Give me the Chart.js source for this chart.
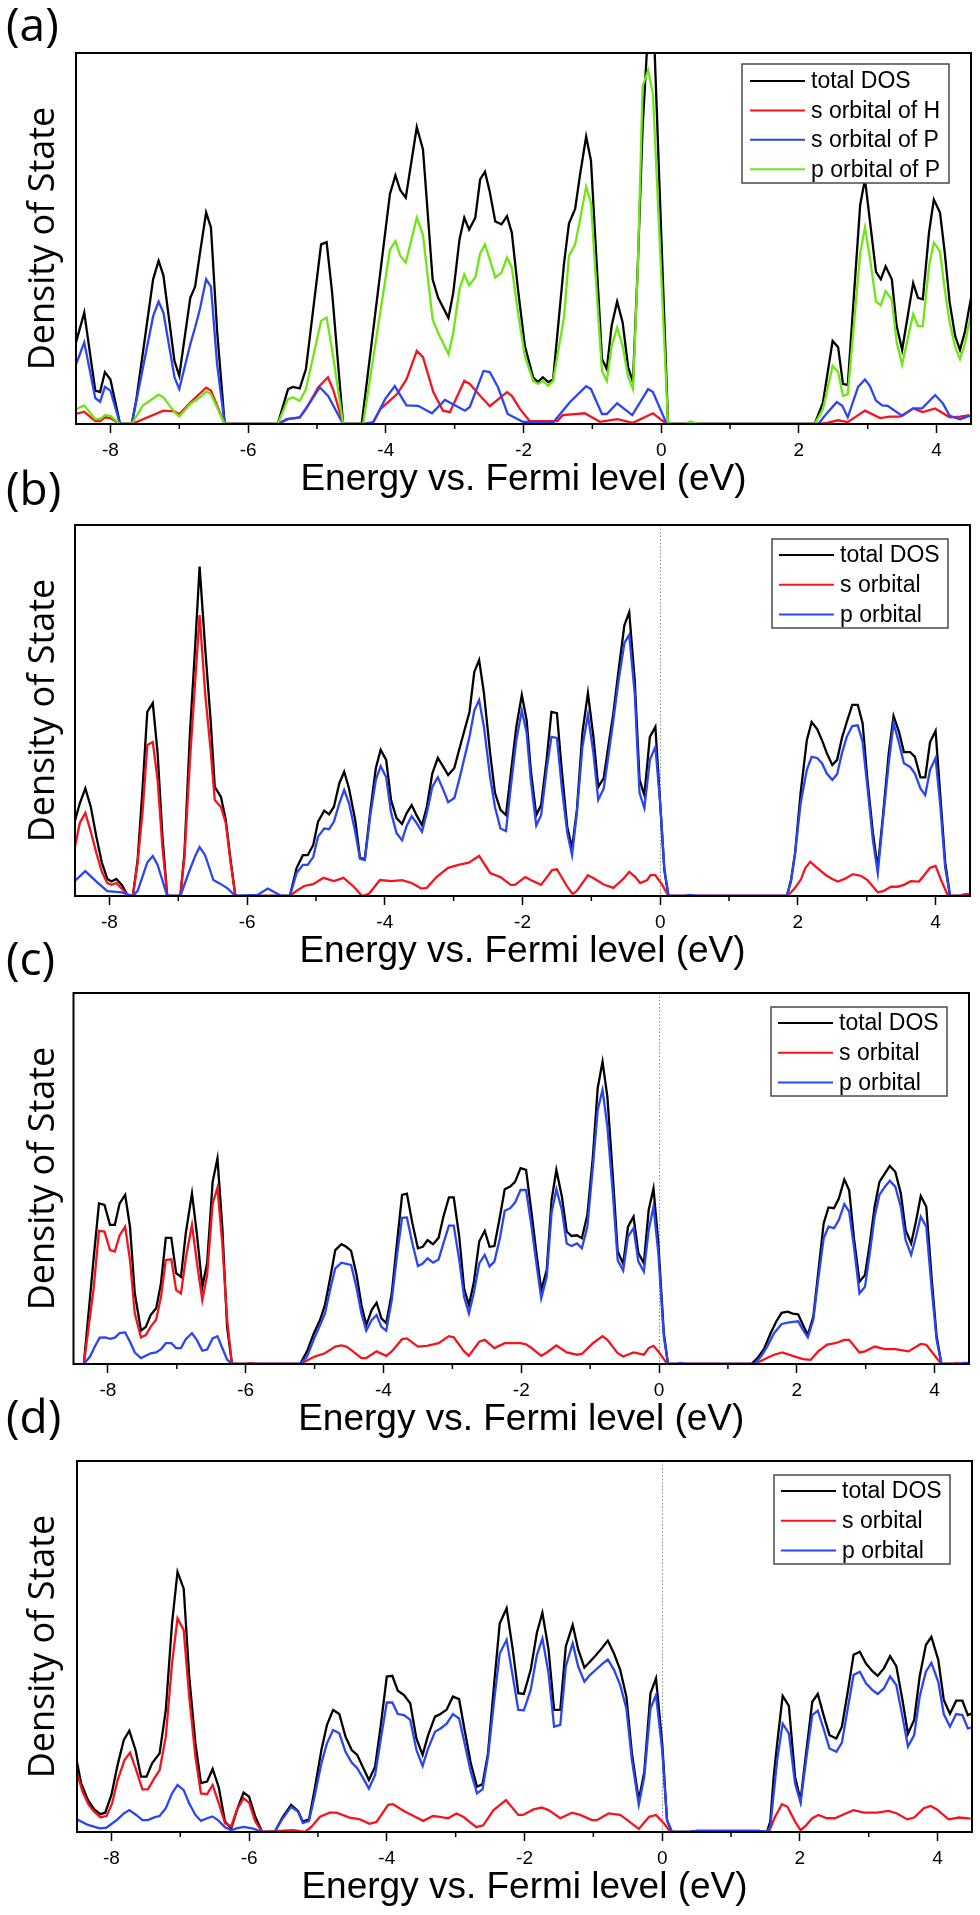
<!DOCTYPE html>
<html>
<head>
<meta charset="utf-8">
<title>Density of State</title>
<script src="https://cdn.jsdelivr.net/npm/chart.js@4.4.1/dist/chart.umd.min.js"></script>
<style>
  body { margin: 0; background: #fff; }
  #page { position: relative; width: 980px; height: 1915px; overflow: hidden; background: #fff; }
  .panel { position: absolute; left: 0; width: 980px; height: 502px; }
  .tag { position: absolute; left: 6px; font-family: "Open Sans", sans-serif; font-size: 46px; line-height: 46px; color: #000; }
</style>
</head>
<body>
<div id="page">
  <div class="panel" style="top:0px"><canvas id="chartA" width="980" height="502"></canvas></div>
  <div class="panel" style="top:472px"><canvas id="chartB" width="980" height="502"></canvas></div>
  <div class="panel" style="top:940px"><canvas id="chartC" width="980" height="502"></canvas></div>
  <div class="panel" style="top:1408px"><canvas id="chartD" width="980" height="502"></canvas></div>
  <div class="tag" style="top:0px">(a)</div>
  <div class="tag" style="top:464px">(b)</div>
  <div class="tag" style="top:934px">(c)</div>
  <div class="tag" style="top:1392px">(d)</div>
</div>
<script>
// x axis: energy vs. Fermi level (eV), y axis in arbitrary units (0..100 = box height)
const energyMin = -8.5;
const energyMax = 4.5;
const majorTicks = [-8, -6, -4, -2, 0, 2, 4];
const minorTicks = [-7, -5, -3, -1, 1, 3];

const legendA = ['total DOS', 's orbital of H', 's orbital of P', 'p orbital of P'];
const legendBCD = ['total DOS', 's orbital', 'p orbital'];

// (a) [energy, DOS]
const aTotal = [[-8.5,22],[-8.38,30],[-8.22,9],[-8.15,8.6],[-8.08,14],[-8.0,12],[-7.86,0],[-7.69,0],[-7.62,7],[-7.38,39],[-7.3,44],[-7.23,40],[-7.07,17],[-7.0,13],[-6.84,34],[-6.77,37],[-6.7,46],[-6.61,57],[-6.54,53],[-6.45,25],[-6.34,0],[-5.57,0],[-5.42,9.4],[-5.35,10],[-5.25,9.6],[-5.16,14.8],[-4.94,48.4],[-4.86,49],[-4.78,35.5],[-4.62,0],[-4.35,0],[-3.94,62],[-3.86,67],[-3.79,63],[-3.71,61],[-3.55,80],[-3.46,74],[-3.32,39],[-3.24,34],[-3.09,28.6],[-3.02,35.4],[-2.93,49.7],[-2.86,55.6],[-2.79,52.4],[-2.7,55.6],[-2.63,65.9],[-2.56,68],[-2.49,62.6],[-2.41,54.6],[-2.32,53.8],[-2.24,56],[-2.17,51.6],[-2.08,36.3],[-1.98,21],[-1.86,12.6],[-1.79,11.3],[-1.72,12.6],[-1.64,11.3],[-1.57,12],[-1.41,43.5],[-1.34,54],[-1.25,58],[-1.18,67],[-1.09,77.5],[-1.02,71],[-0.93,40.8],[-0.86,17.5],[-0.79,14.8],[-0.72,26.4],[-0.64,33],[-0.56,27.4],[-0.48,15.3],[-0.41,11.3],[-0.34,42.5],[-0.27,80],[-0.2,103],[-0.1,103],[0.1,0],[2.23,0],[2.35,5.8],[2.49,22.4],[2.57,20.7],[2.64,10.8],[2.71,10.5],[2.89,59],[2.96,66],[3.03,55],[3.12,41],[3.19,39],[3.26,42.5],[3.35,39],[3.42,26.4],[3.5,20],[3.58,29],[3.66,38],[3.73,34],[3.8,33.6],[3.89,51.6],[3.96,60.5],[4.05,57],[4.12,46],[4.19,32.8],[4.27,23.7],[4.34,20],[4.41,24.7],[4.5,34]];
const aHs = [[-8.5,2.7],[-8.38,3.3],[-8.22,0.8],[-8.15,0.8],[-8.08,1.8],[-8.0,1.6],[-7.86,0],[-7.69,0],[-7.23,3.6],[-7.07,3.4],[-7.0,2.6],[-6.84,5.8],[-6.61,9.8],[-6.54,9],[-6.34,0],[-5.57,0],[-5.42,1.3],[-5.25,1.8],[-5.16,4],[-4.98,9.9],[-4.84,12.6],[-4.76,9],[-4.62,0],[-4.2,0],[-4.08,4],[-3.84,8],[-3.7,12],[-3.55,19.7],[-3.46,18],[-3.31,8.6],[-3.17,3.6],[-3.07,3.2],[-2.86,11.6],[-2.78,10.8],[-2.63,7.6],[-2.49,4.8],[-2.24,8.6],[-2.17,7.6],[-2.05,4],[-1.91,0.8],[-1.51,0.8],[-1.43,2.4],[-1.11,2.9],[-0.89,0.6],[-0.64,1.3],[-0.41,0.3],[-0.12,2.9],[0.08,0],[2.28,0],[2.41,0.3],[2.57,1],[2.71,0.5],[2.96,3.6],[3.18,1.6],[3.32,2],[3.47,2],[3.66,4.2],[3.8,3.2],[3.98,4.2],[4.19,1.8],[4.34,2],[4.48,2.4]];
const aPs = [[-8.5,16],[-8.38,22],[-8.22,7],[-8.15,6],[-8.08,10],[-8.0,9],[-7.86,0],[-7.69,0],[-7.38,29],[-7.3,33],[-7.23,30],[-7.07,12.6],[-7.0,9.4],[-6.84,21.5],[-6.77,26],[-6.7,31],[-6.61,39],[-6.54,37],[-6.45,16],[-6.34,0],[-5.57,0],[-5.44,1.3],[-5.25,1.8],[-5.1,5.8],[-4.96,9.9],[-4.84,7.6],[-4.62,0],[-4.33,0],[-4.18,0.5],[-4.01,6.7],[-3.87,10.2],[-3.7,5],[-3.53,4.9],[-3.33,2.9],[-3.14,6.5],[-2.85,3.6],[-2.78,4.6],[-2.58,14.3],[-2.49,14],[-2.37,9.9],[-2.23,2.7],[-2.01,0.6],[-1.57,0.4],[-1.33,5.8],[-1.09,10.2],[-1.02,9.4],[-0.86,2.7],[-0.79,2.7],[-0.64,5.6],[-0.42,2.4],[-0.19,9.4],[-0.12,8.6],[0.08,0],[2.28,0],[2.42,3.2],[2.55,5.9],[2.63,4.9],[2.71,1.8],[2.86,10],[2.96,12],[3.03,10.3],[3.12,6.3],[3.21,5],[3.29,4.9],[3.5,2.2],[3.66,4.2],[3.79,4.2],[3.98,7.8],[4.09,5.6],[4.19,2.2],[4.34,1.3],[4.48,2.2]];
const aPp = [[-8.5,4],[-8.38,5],[-8.22,1.3],[-8.15,1.3],[-8.08,2.4],[-8.0,2.2],[-7.86,0],[-7.69,0],[-7.53,5],[-7.3,7.9],[-7.23,7.2],[-7.07,3.2],[-7.0,2],[-6.84,5.4],[-6.7,7.2],[-6.6,8.8],[-6.54,8],[-6.34,0],[-5.57,0],[-5.42,6.7],[-5.35,7.2],[-5.25,6.2],[-5.16,9.4],[-4.94,27.8],[-4.86,28.7],[-4.78,20],[-4.62,0],[-4.33,0],[-3.94,47],[-3.86,49.3],[-3.79,45.3],[-3.71,43.5],[-3.55,55.6],[-3.46,51],[-3.32,28.2],[-3.24,24.6],[-3.09,18.8],[-3.02,24.6],[-2.93,36.3],[-2.86,40.3],[-2.79,37.4],[-2.7,39.5],[-2.63,46],[-2.56,48.4],[-2.49,44.4],[-2.41,39.5],[-2.32,40.8],[-2.24,44.9],[-2.17,42.2],[-2.08,30],[-1.98,18.3],[-1.86,11.6],[-1.79,10.8],[-1.72,11.6],[-1.64,10.3],[-1.57,11.6],[-1.41,29],[-1.34,45.3],[-1.25,48.4],[-1.18,55],[-1.09,64],[-1.02,59.6],[-0.93,33.6],[-0.86,14.3],[-0.79,11.6],[-0.72,21],[-0.64,26],[-0.56,21],[-0.48,12.6],[-0.41,9.4],[-0.34,41.7],[-0.27,91],[-0.19,95.4],[-0.12,89],[0.1,0],[0.35,0],[0.42,0.7],[0.55,0],[2.23,0],[2.35,4],[2.49,15.7],[2.57,14],[2.64,7.6],[2.71,8],[2.89,46],[2.96,53],[3.03,45],[3.12,33],[3.19,32],[3.26,35.8],[3.35,33.6],[3.42,22],[3.5,16],[3.58,23],[3.66,29.6],[3.73,26.4],[3.8,26.4],[3.89,42.5],[3.96,48.9],[4.05,46.5],[4.12,36],[4.19,27.4],[4.27,20.7],[4.34,17.5],[4.41,21.5],[4.5,29.6]];

// (b)
const bTotal = [[-8.51,19.7],[-8.43,25],[-8.35,29],[-8.27,24],[-8.19,16],[-8.11,9],[-8.03,4.6],[-7.97,3.9],[-7.9,4.6],[-7.82,3],[-7.74,0.3],[-7.66,0],[-7.59,9.7],[-7.52,28.6],[-7.45,49.6],[-7.37,52],[-7.3,38.5],[-7.23,16],[-7.16,0],[-6.97,0],[-6.91,11.6],[-6.83,44],[-6.76,65.5],[-6.69,88.8],[-6.61,67],[-6.53,47.4],[-6.47,29.4],[-6.38,26.7],[-6.31,20.5],[-6.24,9.7],[-6.17,0],[-5.38,0],[-5.28,7.6],[-5.19,11],[-5.12,11],[-5.04,13.7],[-4.97,20],[-4.88,23],[-4.81,22],[-4.74,24],[-4.66,30.4],[-4.59,33.5],[-4.52,29],[-4.43,20.5],[-4.36,10.2],[-4.29,10],[-4.21,23],[-4.13,34.5],[-4.06,39.4],[-3.98,36.7],[-3.91,25.9],[-3.83,21],[-3.75,19.4],[-3.68,22.4],[-3.61,24.5],[-3.54,21.8],[-3.46,19.1],[-3.39,24],[-3.31,33],[-3.23,37.2],[-3.15,34.8],[-3.08,32.6],[-2.99,34.5],[-2.92,39.4],[-2.85,44.2],[-2.77,49.6],[-2.7,60.4],[-2.63,63.6],[-2.56,54.7],[-2.47,38.5],[-2.4,27.8],[-2.32,23.2],[-2.24,21.8],[-2.17,33],[-2.09,45.6],[-2.01,54.2],[-1.94,47.4],[-1.88,34],[-1.8,21.8],[-1.73,24.5],[-1.65,36.7],[-1.58,49.6],[-1.5,49.3],[-1.43,34],[-1.35,18.6],[-1.28,12.9],[-1.21,23.2],[-1.13,44],[-1.05,54.7],[-0.97,42.9],[-0.9,29.4],[-0.82,31.8],[-0.74,42],[-0.68,49.3],[-0.61,60],[-0.52,73],[-0.45,76.5],[-0.37,58.2],[-0.3,31.3],[-0.23,27.2],[-0.15,42.9],[-0.07,45.6],[0,25],[0.06,7],[0.12,0],[1.84,0],[1.9,4.3],[1.96,11.6],[2.04,27.8],[2.13,42],[2.2,46.9],[2.28,45],[2.35,42],[2.42,38.5],[2.5,35.3],[2.57,36.7],[2.64,42.6],[2.71,46.9],[2.79,51.5],[2.87,51.5],[2.94,46.6],[3.01,31.3],[3.09,17],[3.16,7.6],[3.24,22.4],[3.32,38.5],[3.39,48.5],[3.47,44.2],[3.54,38.8],[3.63,38.8],[3.7,37.5],[3.78,32],[3.85,32],[3.92,41.5],[4.0,44.5],[4.07,26.7],[4.14,9],[4.21,0],[4.5,0]];
const bS = [[-8.51,12.4],[-8.43,19.7],[-8.35,22.4],[-8.27,17.3],[-8.19,11.6],[-8.11,6.5],[-8.03,3.5],[-7.97,3],[-7.9,3.5],[-7.82,2],[-7.74,0.3],[-7.66,0],[-7.59,9],[-7.52,22.4],[-7.45,40.7],[-7.37,41.5],[-7.3,31.3],[-7.23,13.2],[-7.16,0],[-6.97,0],[-6.91,10.5],[-6.83,36.7],[-6.76,56.3],[-6.69,75.7],[-6.61,54.7],[-6.53,39.4],[-6.47,25.9],[-6.38,24],[-6.31,19.7],[-6.24,9],[-6.17,0],[-5.38,0],[-5.28,1.4],[-5.17,2.7],[-5.04,3.2],[-4.89,4.9],[-4.74,4],[-4.6,4.9],[-4.45,2.5],[-4.33,0],[-4.23,0.6],[-4.07,4.3],[-3.9,4],[-3.75,4.3],[-3.61,3.5],[-3.47,2],[-3.39,2.2],[-3.25,5.1],[-3.08,7.6],[-2.93,8.4],[-2.78,9],[-2.63,10.8],[-2.47,6.2],[-2.32,5.1],[-2.17,3],[-2.11,3],[-1.96,5.1],[-1.88,4.3],[-1.73,3],[-1.57,7],[-1.5,7.2],[-1.35,2.5],[-1.27,0.5],[-1.21,1.4],[-1.05,5.6],[-0.96,4.7],[-0.82,3.1],[-0.68,2.2],[-0.53,4.7],[-0.45,6.5],[-0.36,5.1],[-0.29,3.5],[-0.19,4.3],[-0.14,5.6],[-0.07,5.6],[0.03,3],[0.12,0],[1.85,0],[1.95,2],[2.04,4.3],[2.11,7.6],[2.18,9.2],[2.28,7.6],[2.41,5.6],[2.5,4.6],[2.58,3.9],[2.68,4.6],[2.8,5.9],[2.92,5.4],[3.01,4.3],[3.16,1],[3.24,1.3],[3.35,2.5],[3.45,2.5],[3.54,3],[3.64,4],[3.76,3.9],[3.92,7.6],[4.0,8.1],[4.08,4.3],[4.17,0.5],[4.21,0],[4.35,0],[4.42,0.5],[4.5,0.5]];
const bP = [[-8.51,3.9],[-8.35,6.7],[-8.19,3.9],[-8.03,1.3],[-7.82,1],[-7.66,0],[-7.59,1.4],[-7.45,9],[-7.37,10.8],[-7.3,8.4],[-7.16,0],[-6.97,0],[-6.85,6.2],[-6.76,10.5],[-6.69,13.2],[-6.61,11],[-6.49,4.3],[-6.38,3.2],[-6.28,2],[-6.17,0],[-5.85,0.3],[-5.7,2],[-5.5,0],[-5.38,0],[-5.28,6.2],[-5.19,8.4],[-5.12,8.4],[-5.04,10.5],[-4.97,16],[-4.88,18.2],[-4.81,18],[-4.74,20],[-4.66,25],[-4.59,28.6],[-4.52,25],[-4.43,17.3],[-4.36,10],[-4.29,9.7],[-4.21,21.8],[-4.13,31.3],[-4.06,35],[-3.98,32],[-3.91,22.6],[-3.83,17],[-3.75,15],[-3.68,19],[-3.61,21.5],[-3.54,19.7],[-3.46,17.3],[-3.39,22.4],[-3.31,29.4],[-3.23,32],[-3.15,28.6],[-3.08,25.3],[-2.99,26.4],[-2.92,31.3],[-2.85,36.7],[-2.77,42.9],[-2.7,50],[-2.63,52.8],[-2.56,45.6],[-2.47,32],[-2.4,24],[-2.32,18.2],[-2.24,17.5],[-2.17,29.4],[-2.09,42],[-2.01,50],[-1.94,44],[-1.88,31.3],[-1.8,19],[-1.73,21.8],[-1.65,34],[-1.58,42.9],[-1.5,42.6],[-1.43,29.4],[-1.35,17],[-1.28,11],[-1.21,22.4],[-1.13,40.2],[-1.05,48.8],[-0.97,38.5],[-0.9,25.9],[-0.82,29],[-0.74,39.4],[-0.68,47.4],[-0.61,57.4],[-0.52,68.2],[-0.45,70.4],[-0.37,54.7],[-0.3,27.8],[-0.23,23.7],[-0.15,36.7],[-0.07,40.2],[0,25],[0.06,7.6],[0.12,0],[0.35,0],[0.42,0.3],[0.55,0],[1.84,0],[1.9,3.9],[1.96,11.6],[2.04,25],[2.13,34],[2.2,37.5],[2.28,37.2],[2.35,35.8],[2.42,33],[2.5,31.3],[2.57,32.8],[2.64,38.5],[2.71,42.9],[2.79,45.8],[2.87,46],[2.94,41.5],[3.01,29.4],[3.09,15],[3.16,6.2],[3.24,21.3],[3.32,35.8],[3.39,46.6],[3.47,41.2],[3.54,35.8],[3.63,34.8],[3.7,33],[3.78,29],[3.85,27.2],[3.92,34],[4.0,37.2],[4.07,24],[4.14,7.6],[4.21,0],[4.5,0]];

// (c)
const cTotal = [[-8.35,0],[-8.21,28],[-8.13,43.3],[-8.05,42.9],[-7.97,37.5],[-7.9,37.5],[-7.83,43.3],[-7.75,45.6],[-7.68,37],[-7.61,19],[-7.52,9],[-7.45,10],[-7.38,13.2],[-7.3,15],[-7.23,21.8],[-7.16,34],[-7.08,34],[-7.01,24.5],[-6.94,23.5],[-6.87,35.3],[-6.78,46],[-6.71,35.3],[-6.63,20.8],[-6.56,27.2],[-6.48,49.1],[-6.41,55.4],[-6.34,37],[-6.27,10],[-6.2,0],[-5.21,0],[-5.11,3.4],[-5.01,8.3],[-4.92,11.9],[-4.85,15.9],[-4.77,23.5],[-4.7,30.7],[-4.61,32.3],[-4.54,31.6],[-4.47,30.5],[-4.39,24],[-4.32,15.9],[-4.25,10.5],[-4.17,14.6],[-4.1,16.5],[-4.03,12.3],[-3.96,11],[-3.88,19],[-3.8,33.4],[-3.73,45.6],[-3.66,45.9],[-3.58,37.9],[-3.5,31.2],[-3.43,31.6],[-3.36,33.4],[-3.28,32.3],[-3.2,34],[-3.13,39.7],[-3.05,44.9],[-2.98,44.9],[-2.9,34.3],[-2.83,20.4],[-2.76,15.9],[-2.69,21.8],[-2.61,33],[-2.53,35.9],[-2.46,31.6],[-2.39,31.8],[-2.31,39.7],[-2.24,47.1],[-2.16,47.8],[-2.09,49.1],[-2.01,52.8],[-1.93,52.3],[-1.85,40.7],[-1.78,29.9],[-1.71,19.9],[-1.63,25.3],[-1.56,44.2],[-1.49,52.3],[-1.41,45.1],[-1.34,35.7],[-1.27,34.5],[-1.19,34.7],[-1.12,33.9],[-1.04,40.2],[-0.96,55.9],[-0.89,74.4],[-0.82,81.5],[-0.75,72.1],[-0.67,50.5],[-0.6,30.3],[-0.52,27],[-0.45,37],[-0.37,39.7],[-0.3,29.9],[-0.22,27.2],[-0.15,41.5],[-0.08,47.3],[-0.01,32.6],[0.07,8.3],[0.13,0],[1.34,0],[1.43,1.6],[1.53,4.3],[1.62,8.3],[1.7,11.4],[1.78,13.8],[1.87,14.1],[1.94,13.6],[2.02,13.4],[2.09,10.5],[2.16,7.8],[2.24,12.8],[2.31,24.4],[2.39,37.9],[2.46,42.2],[2.54,42],[2.61,44.6],[2.69,49.7],[2.76,46.9],[2.83,33.9],[2.91,22.2],[2.99,24],[3.06,32.5],[3.13,42.4],[3.2,49.1],[3.28,51.4],[3.35,53.4],[3.43,51.8],[3.51,46],[3.58,36.1],[3.66,32.5],[3.73,38.4],[3.8,45.3],[3.88,42.4],[3.96,22.6],[4.03,7.4],[4.1,0],[4.5,0]];
const cS = [[-8.35,0],[-8.21,20],[-8.13,35.9],[-8.05,35.7],[-7.97,30.7],[-7.9,30.3],[-7.83,34.7],[-7.75,37],[-7.68,28],[-7.61,13.6],[-7.52,7.2],[-7.45,7.8],[-7.38,10],[-7.3,12],[-7.23,18.1],[-7.16,28],[-7.08,28.2],[-7.01,19.9],[-6.94,19],[-6.87,28.5],[-6.78,37.5],[-6.71,27.6],[-6.63,17.2],[-6.56,24],[-6.48,43.3],[-6.41,47.5],[-6.34,32.5],[-6.27,12],[-6.2,0],[-6.0,0],[-5.93,0.3],[-5.85,0],[-5.21,0],[-5.0,2],[-4.85,2.9],[-4.7,4.7],[-4.61,5],[-4.54,4.7],[-4.47,3.8],[-4.32,1.6],[-4.25,1.6],[-4.1,3.4],[-3.96,2.2],[-3.88,3.4],[-3.73,6.7],[-3.66,6.9],[-3.5,4.7],[-3.37,4.9],[-3.2,5.6],[-3.05,7.5],[-2.98,7.2],[-2.83,3.4],[-2.76,2.2],[-2.61,6],[-2.53,6.5],[-2.39,4.3],[-2.24,5.6],[-2.01,5.6],[-1.93,5.3],[-1.85,4.3],[-1.71,2.2],[-1.63,3.1],[-1.49,5],[-1.34,3.1],[-1.19,2.5],[-1.12,2.7],[-0.96,5.6],[-0.82,7.5],[-0.75,6.5],[-0.6,2.9],[-0.52,2],[-0.37,3.1],[-0.22,2.5],[-0.15,4.3],[-0.08,4.9],[-0.01,3.4],[0.12,0],[1.38,0],[1.53,1.3],[1.67,2.5],[1.79,3.1],[1.94,2.2],[2.09,1.3],[2.2,1.1],[2.31,3.4],[2.44,5.2],[2.56,5.6],[2.69,6.5],[2.76,6.5],[2.91,3.1],[2.99,3.4],[3.13,4.7],[3.28,4],[3.43,4],[3.62,3.4],[3.8,5.4],[3.88,5.2],[4.03,1.6],[4.1,0],[4.25,0],[4.32,0.3],[4.4,0],[4.5,0]];
const cP = [[-8.35,0],[-8.26,2],[-8.19,4.7],[-8.12,7.1],[-8.04,7.2],[-7.97,6.8],[-7.9,7.1],[-7.83,8.3],[-7.75,8.5],[-7.68,6],[-7.61,3.1],[-7.52,1.6],[-7.38,2.9],[-7.3,3.1],[-7.23,4],[-7.16,5.6],[-7.08,5.6],[-7.01,4.3],[-6.94,4.3],[-6.87,6.7],[-6.78,8.3],[-6.71,6.5],[-6.63,3.6],[-6.56,3.9],[-6.48,6.9],[-6.41,7.5],[-6.34,4.3],[-6.27,1.2],[-6.2,0],[-5.21,0],[-5.11,2],[-5.01,6.7],[-4.92,10.5],[-4.85,13.6],[-4.77,20.4],[-4.7,25.8],[-4.61,27.3],[-4.54,27],[-4.47,26.7],[-4.39,20.4],[-4.32,13.6],[-4.25,9],[-4.17,11.9],[-4.1,13.2],[-4.03,10],[-3.96,9],[-3.88,17.2],[-3.8,29.8],[-3.73,39.4],[-3.66,39.5],[-3.58,32.5],[-3.5,26.4],[-3.43,27.1],[-3.36,28.5],[-3.28,27.3],[-3.2,28.2],[-3.13,32.5],[-3.05,37.3],[-2.98,37.3],[-2.9,28],[-2.83,18.1],[-2.76,13.6],[-2.69,19],[-2.61,27.1],[-2.53,29.4],[-2.46,26.3],[-2.39,27.6],[-2.31,33.9],[-2.24,41.3],[-2.16,42],[-2.09,43.5],[-2.01,46.9],[-1.93,46.9],[-1.85,37],[-1.78,27.1],[-1.71,17.7],[-1.63,23.5],[-1.56,40.7],[-1.49,47.1],[-1.41,41.5],[-1.34,32.5],[-1.27,31.8],[-1.19,32.5],[-1.12,31.2],[-1.04,37],[-0.96,53.2],[-0.89,68.5],[-0.82,73.9],[-0.75,64],[-0.67,46],[-0.6,28],[-0.52,25.2],[-0.45,34.3],[-0.37,36.6],[-0.3,27.6],[-0.22,24.9],[-0.15,36.1],[-0.08,42.4],[-0.01,29.9],[0.07,7.4],[0.13,0],[0.25,0],[0.31,0.3],[0.4,0],[1.38,0],[1.48,2],[1.57,4.7],[1.67,8.3],[1.78,10.8],[1.89,11.2],[2.02,11.5],[2.09,9.2],[2.16,7.2],[2.24,11.9],[2.31,22.6],[2.39,33.9],[2.46,37],[2.54,36.6],[2.61,38.8],[2.69,43.1],[2.76,41.1],[2.83,31.6],[2.91,19],[2.99,20.8],[3.06,29.9],[3.13,39.7],[3.2,45.6],[3.28,47.8],[3.35,49.4],[3.43,47.8],[3.51,42.4],[3.58,33.4],[3.66,29.4],[3.73,34.3],[3.8,39.7],[3.88,37],[3.96,19.9],[4.03,6.5],[4.1,0],[4.35,0],[4.42,0.3],[4.5,0.3]];

// (d)
const dTotal = [[-8.5,18.9],[-8.44,13.1],[-8.34,8.6],[-8.25,6.1],[-8.16,4.8],[-8.09,5.2],[-8.0,10],[-7.91,18.1],[-7.82,24.8],[-7.74,27.3],[-7.65,22.1],[-7.57,14.9],[-7.49,14.9],[-7.41,18.5],[-7.3,21.2],[-7.21,32.9],[-7.12,56.2],[-7.04,70.1],[-6.95,65.6],[-6.87,41.9],[-6.78,23.9],[-6.7,13.2],[-6.61,13.6],[-6.53,17],[-6.44,12],[-6.35,2.8],[-6.26,1],[-6.16,6.8],[-6.08,10.6],[-6.0,9.5],[-5.91,4.1],[-5.81,0],[-5.63,0],[-5.51,4.1],[-5.39,7.3],[-5.29,5.7],[-5.22,2.8],[-5.13,3.4],[-5.05,11.3],[-4.95,22.1],[-4.87,28.8],[-4.78,32.9],[-4.69,31.8],[-4.6,25.7],[-4.51,22.1],[-4.43,20.8],[-4.34,17.2],[-4.26,14],[-4.17,17.6],[-4.09,28.4],[-4.0,41.9],[-3.92,42.1],[-3.84,38.1],[-3.75,36.9],[-3.66,34.7],[-3.57,25.2],[-3.48,20.8],[-3.4,26.1],[-3.3,31.1],[-3.22,31.8],[-3.13,33],[-3.04,36.5],[-2.95,35.8],[-2.87,27.5],[-2.78,18.5],[-2.69,12.2],[-2.61,12.9],[-2.53,21.2],[-2.44,40.1],[-2.36,56.2],[-2.26,60.3],[-2.17,49.1],[-2.09,37.4],[-2.01,37.2],[-1.91,43.7],[-1.82,53.7],[-1.74,59.1],[-1.65,49.1],[-1.57,32.9],[-1.48,32.9],[-1.4,50],[-1.3,55.8],[-1.22,49.2],[-1.13,44.3],[-1.05,45.9],[-0.96,47.7],[-0.87,49.7],[-0.79,51.6],[-0.7,48.1],[-0.61,43.7],[-0.52,36.5],[-0.44,21.2],[-0.34,8.6],[-0.26,16.2],[-0.17,37.4],[-0.09,41.4],[0,23.9],[0.07,3.2],[0.14,0],[0.4,0],[0.5,0.3],[1.4,0.3],[1.52,0],[1.57,2.8],[1.62,14.9],[1.67,23.9],[1.75,36.7],[1.84,34],[1.93,14.9],[2.01,8.5],[2.09,21.2],[2.18,35.1],[2.26,37.2],[2.35,31.1],[2.43,26.1],[2.53,25.2],[2.61,28.4],[2.7,38.3],[2.78,47.8],[2.87,48.6],[2.96,45.4],[3.05,43.4],[3.13,42.1],[3.22,44.1],[3.31,47.4],[3.4,44.7],[3.49,35.6],[3.57,26.5],[3.66,30.2],[3.74,41.9],[3.83,50.4],[3.91,52.6],[4.01,46.4],[4.09,35.6],[4.18,31.9],[4.27,35.4],[4.36,35.4],[4.44,31.5],[4.5,32]];
const dS = [[-8.5,15.8],[-8.42,10.9],[-8.33,7.3],[-8.25,5.5],[-8.16,4],[-8.07,4.3],[-7.99,7.7],[-7.91,14],[-7.81,19.4],[-7.73,21.4],[-7.64,16.7],[-7.55,11.5],[-7.47,11.5],[-7.38,14.4],[-7.3,16.7],[-7.21,25.7],[-7.12,45.4],[-7.04,57.6],[-6.95,54.4],[-6.87,36.5],[-6.78,20.3],[-6.7,10.4],[-6.61,10.2],[-6.53,12.7],[-6.44,7.7],[-6.35,2.4],[-6.26,1.5],[-6.18,5.9],[-6.08,9.1],[-6.0,7.9],[-5.91,2.8],[-5.81,0],[-5.56,0.3],[-5.36,0.5],[-5.19,0],[-5.1,1.3],[-4.97,4.1],[-4.83,5.2],[-4.73,5.2],[-4.54,3.9],[-4.39,3.4],[-4.25,2.2],[-4.15,2.7],[-3.98,7.3],[-3.91,7.5],[-3.74,5.5],[-3.59,4.1],[-3.47,3],[-3.33,4.3],[-3.23,4.1],[-3.11,3.7],[-2.99,5],[-2.89,4.1],[-2.7,1.3],[-2.6,1.8],[-2.45,5.9],[-2.27,8.6],[-2.09,4.6],[-2.02,4.6],[-1.87,6.1],[-1.75,6.6],[-1.65,5.9],[-1.48,3.7],[-1.31,5.2],[-1.19,4.6],[-1.02,3.2],[-0.95,3.2],[-0.78,5],[-0.61,4.6],[-0.52,3.4],[-0.34,0.8],[-0.19,4.1],[-0.09,4.6],[0.03,2.2],[0.12,0],[1.55,0],[1.64,4.1],[1.74,7.5],[1.82,6.8],[1.93,2.8],[2.01,0.5],[2.09,1.8],[2.18,3.7],[2.27,4.6],[2.39,3.7],[2.51,3.7],[2.64,4.8],[2.78,5.9],[2.93,5.2],[3.12,5.2],[3.29,5.7],[3.41,5],[3.56,3.4],[3.66,3.9],[3.8,6.4],[3.9,7],[3.99,6.1],[4.16,3.4],[4.31,3.9],[4.48,3.6]];
const dP = [[-8.5,3.4],[-8.34,1.9],[-8.17,1],[-8.07,1.2],[-7.91,3.4],[-7.82,5],[-7.74,5.9],[-7.64,4.6],[-7.55,3.2],[-7.47,3.2],[-7.37,4],[-7.3,4.3],[-7.21,6.4],[-7.12,10.4],[-7.04,12.7],[-6.95,11.3],[-6.87,7.7],[-6.78,4.6],[-6.7,3],[-6.61,3.7],[-6.53,4.2],[-6.44,3],[-6.35,1.3],[-6.26,0.5],[-6.18,1],[-6.08,1.4],[-5.94,0.9],[-5.81,0],[-5.63,0],[-5.51,3.7],[-5.39,6.8],[-5.29,5.5],[-5.22,2.4],[-5.13,3],[-5.05,9.5],[-4.97,16.7],[-4.95,18.5],[-4.87,23.9],[-4.78,27.5],[-4.69,26.6],[-4.6,21.6],[-4.51,18.7],[-4.43,17.2],[-4.34,14.4],[-4.26,11.7],[-4.17,15.4],[-4.09,24.8],[-4.0,34.9],[-3.92,34.9],[-3.84,31.8],[-3.75,31.5],[-3.66,30.2],[-3.57,22.1],[-3.48,17.8],[-3.4,22.5],[-3.3,27],[-3.22,27.9],[-3.13,29.2],[-3.04,31.8],[-2.95,30.6],[-2.87,23.9],[-2.78,16.2],[-2.69,10.4],[-2.61,11.5],[-2.53,20.3],[-2.44,35.6],[-2.36,48.1],[-2.26,51.8],[-2.17,41.9],[-2.09,32.9],[-2.01,32.8],[-1.91,38.3],[-1.82,47.7],[-1.74,52.2],[-1.65,42.7],[-1.57,28.4],[-1.48,28.9],[-1.4,44.6],[-1.3,50.9],[-1.22,44.6],[-1.13,40.5],[-1.05,42.3],[-0.96,43.8],[-0.87,45.3],[-0.79,46.5],[-0.7,43.7],[-0.61,39.6],[-0.52,33.3],[-0.44,19.4],[-0.34,7.3],[-0.26,14.9],[-0.17,33.3],[-0.09,36.9],[0,22.1],[0.07,3.2],[0.14,0],[0.4,0],[0.5,0.3],[1.4,0.3],[1.52,0],[1.57,1.4],[1.67,19.4],[1.75,29.2],[1.84,26.6],[1.93,13.1],[2.01,7.9],[2.09,19.4],[2.18,31.5],[2.26,32.7],[2.35,27.5],[2.43,22.5],[2.53,21.6],[2.61,24.1],[2.7,33.8],[2.78,42.3],[2.87,43.2],[2.96,40.1],[3.05,38.3],[3.13,37.2],[3.22,38.7],[3.31,41.9],[3.4,39.6],[3.49,31.1],[3.57,23],[3.66,26.1],[3.74,36.5],[3.83,43.2],[3.91,45.6],[4.01,40.5],[4.09,31.8],[4.18,28.4],[4.27,31.8],[4.36,31.5],[4.44,27.9],[4.5,28.2]];

const BLACK = '#000000';
const RED = '#f5141e';
const BLUE = '#2a46f2';
const GREEN = '#6ee614';

// 작은 장식: 테두리, 보조 눈금, 페르미 준위 점선, 범례 상자
const decor = {
    id: 'decor',
    beforeDatasetsDraw(chart, args, opts) {
        if (!opts.showFermi) return;
        const { ctx, chartArea: a, scales: { x } } = chart;
        const px = Math.round(x.getPixelForValue(0)) + 0.5;
        ctx.save();
        ctx.strokeStyle = '#8c8c8c';
        ctx.lineWidth = 1;
        ctx.setLineDash([1.5, 2]);
        ctx.beginPath();
        ctx.moveTo(px, a.top);
        ctx.lineTo(px, a.bottom);
        ctx.stroke();
        ctx.restore();
    },
    afterDraw(chart, args, opts) {
        const { ctx, chartArea: a, scales: { x } } = chart;
        ctx.save();
        // frame
        ctx.strokeStyle = '#000';
        ctx.lineWidth = 2;
        ctx.strokeRect(a.left, a.top, a.right - a.left, a.bottom - a.top);
        // minor ticks
        ctx.lineWidth = 1.5;
        minorTicks.forEach(v => {
            const px = x.getPixelForValue(v);
            ctx.beginPath();
            ctx.moveTo(px, a.bottom);
            ctx.lineTo(px, a.bottom + 5);
            ctx.stroke();
        });
        // legend
        const L = opts.box;
        const bx = a.right - L.fromRight, by = a.top + L.fromTop;
        ctx.fillStyle = '#fff';
        ctx.fillRect(bx, by, L.w, L.h);
        ctx.strokeStyle = '#4a4a4a';
        ctx.lineWidth = 1.5;
        ctx.strokeRect(bx, by, L.w, L.h);
        ctx.font = '23px "Liberation Sans", Arial, sans-serif';
        ctx.textBaseline = 'middle';
        ctx.textAlign = 'left';
        chart.data.datasets.forEach((ds, i) => {
            const ry = by + L.row0 + i * L.rowGap;
            ctx.strokeStyle = ds.borderColor;
            ctx.lineWidth = 2;
            ctx.beginPath();
            ctx.moveTo(bx + L.line0, ry);
            ctx.lineTo(bx + L.line1, ry);
            ctx.stroke();
            ctx.fillStyle = '#000';
            ctx.fillText(ds.label, bx + L.text0, ry + 1);
        });
        ctx.restore();
    }
};

const wideBox = { fromRight: 229, fromTop: 11, w: 207, h: 119, row0: 17, rowGap: 29.4, line0: 8, line1: 63, text0: 69 };
const narrowBox = { fromRight: 198, fromTop: 14, w: 176, h: 89, row0: 16, rowGap: 29.7, line0: 7, line1: 62, text0: 68 };

function drawPanel(id, left, right, series, labels, colors, showFermi, box) {
    const ctx = document.getElementById(id).getContext('2d');
    const datasets = series.map((pts, i) => ({
        label: labels[i],
        data: pts.map(p => ({ x: p[0], y: p[1] })),
        borderColor: colors[i],
        backgroundColor: colors[i],
        borderWidth: 2.3,
        pointRadius: 0,
        tension: 0,
        fill: false,
        order: series.length - i
    }));
    return new Chart(ctx, {
        type: 'line',
        data: { datasets },
        options: {
            responsive: false,
            animation: false,
            events: [],
            layout: { padding: { left: 0, right: 980 - right, top: 53, bottom: 0 } },
            plugins: {
                legend: { display: false },
                tooltip: { enabled: false },
                decor: { showFermi, box }
            },
            scales: {
                x: {
                    type: 'linear',
                    min: energyMin,
                    max: energyMax,
                    afterFit(scale) { scale.height = 78; },
                    afterBuildTicks(scale) { scale.ticks = majorTicks.map(v => ({ value: v })); },
                    border: { display: false },
                    grid: { drawOnChartArea: false, drawTicks: true, tickLength: 9, tickWidth: 1.5, tickColor: '#000' },
                    ticks: {
                        autoSkip: false,
                        maxRotation: 0,
                        padding: 6,
                        color: '#000',
                        font: { family: '"Liberation Sans", Arial, sans-serif', size: 19 },
                        callback: v => String(v)
                    },
                    title: {
                        display: true,
                        text: 'Energy vs. Fermi level (eV)',
                        color: '#000',
                        font: { family: '"Liberation Sans", Arial, sans-serif', size: 37 },
                        padding: 0
                    }
                },
                y: {
                    min: 0,
                    max: 100,
                    afterFit(scale) { scale.width = left; },
                    border: { display: false },
                    grid: { display: false },
                    ticks: { display: false },
                    title: {
                        display: true,
                        text: 'Density of State',
                        color: '#000',
                        font: { family: '"Open Sans", sans-serif', size: 36 },
                        padding: { top: 22, bottom: 0 }
                    }
                }
            }
        },
        plugins: [decor]
    });
}

drawPanel('chartA', 76, 971, [aTotal, aHs, aPs, aPp], legendA, [BLACK, RED, BLUE, GREEN], false, wideBox);
drawPanel('chartB', 75, 970, [bTotal, bS, bP], legendBCD, [BLACK, RED, BLUE], true, narrowBox);
drawPanel('chartC', 73.5, 969, [cTotal, cS, cP], legendBCD, [BLACK, RED, BLUE], true, narrowBox);
drawPanel('chartD', 77, 972, [dTotal, dS, dP], legendBCD, [BLACK, RED, BLUE], true, narrowBox);
</script>
</body>
</html>
